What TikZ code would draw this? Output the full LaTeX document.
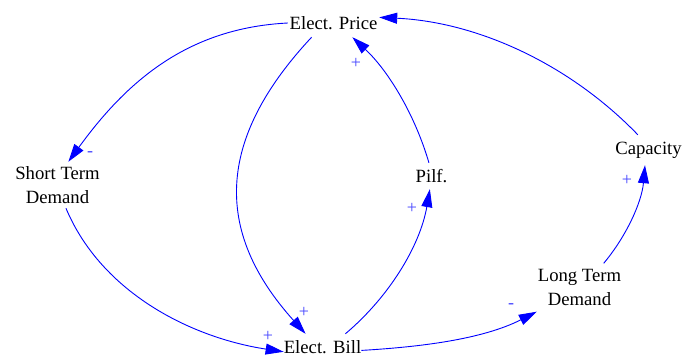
\documentclass[tikz,border=0pt]{standalone}
\usepackage{fontspec}
\setmainfont{Liberation Serif}
\newfontfamily\varfont{Liberation Serif}
\usetikzlibrary{arrows.meta}
\definecolor{linkblue}{RGB}{0,0,255}
\definecolor{polblue}{RGB}{70,70,255}
\tikzset{
  var/.style={rectangle, inner sep=0pt, align=center, text=black,
    font=\varfont\fontsize{18.7}{24}\selectfont},
  link/.style={draw=linkblue, line width=0.9pt, -{Triangle[length=18pt,width=11pt]}},
  pol/.style={inner sep=0pt, text=polblue, font=\varfont\fontsize{18}{20}\selectfont}
}
\begin{document}
\begin{tikzpicture}[x=1pt,y=-1pt]
\useasboundingbox (0,0) rectangle (684,356);
% variables
\node[var, minimum width=91pt, minimum height=28pt] (price) at (333.5,23) {Elect. Price};
\node[var, minimum width=87pt, minimum height=46pt] (std) at (57.5,185) {Short Term\\Demand};
\node[var, minimum width=32pt, minimum height=26pt] (pilf) at (431.5,176) {Pilf.};
\node[var, minimum width=75pt, minimum height=26pt] (bill) at (322.5,347) {Elect. Bill};
\node[var, minimum width=85pt, minimum height=48pt] (ltd) at (579.5,287.5) {Long Term\\Demand};
\node[var, minimum width=67pt, minimum height=30pt] (cap) at (648.5,150) {Capacity};
% links
\draw[link] (price.west) .. controls (188,28) and (127,81) .. (std.65.5);
\draw[link] (std.290.3) .. controls (102,294) and (193,338) .. (bill.187.6);
\draw[link] (price.213) .. controls (216.5,139) and (213,231) .. (bill.142.3);
\draw[link] (bill.30) .. controls (389,297) and (420,246) .. (pilf.263.4);
\draw[link] (pilf.101) .. controls (415,115) and (388.5,71) .. (price.323);
\draw[link] (bill.355) .. controls (419.5,347) and (482,339.5) .. (ltd.south west);
\draw[link] (ltd.45) .. controls (626.7,235.8) and (641.8,201.7) .. (cap.257);
\draw[link] (cap.125) .. controls (569.6,64) and (477.4,22) .. (price.7.5);
% polarities
\node[pol] (p1) at (90,154) {-};
\node[pol] (p2) at (268,336) {+};
\node[pol] (p3) at (304,312) {+};
\node[pol] (p4) at (412,208) {+};
\node[pol] (p5) at (356,63) {+};
\node[pol] (p6) at (511,306) {-};
\node[pol] (p7) at (627,180) {+};
\end{tikzpicture}
\end{document}
